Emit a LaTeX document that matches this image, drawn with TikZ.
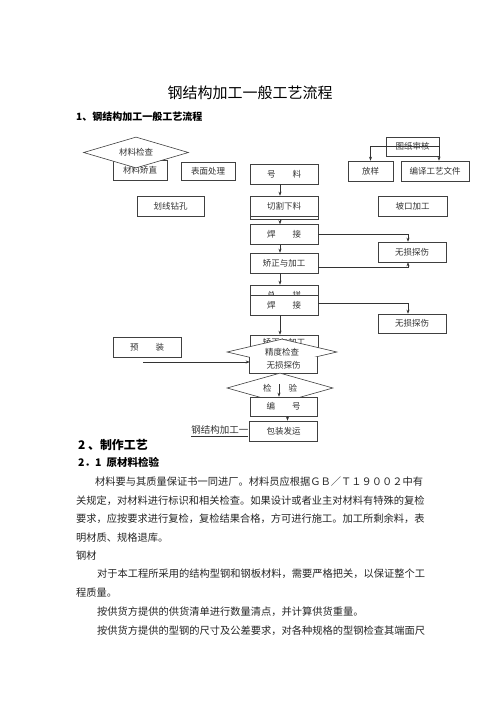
\documentclass[tikz,border=0pt]{standalone}
\usepackage{fontspec}
\setmainfont{Noto Sans CJK SC}
\usetikzlibrary{shapes.geometric,arrows.meta}

\begin{document}
\begin{tikzpicture}[
			x=1pt, y=-1pt,
			box/.style = {draw=black!75, fill=white, line width=.6pt, inner sep=0pt,
				minimum width=68pt, minimum height=20pt,
				font=\fontsize{8.5}{10}\selectfont, text=black!80},
			check/.style = {diamond, aspect=3.5, draw=black!75, fill=white, line width=.6pt,
				inner sep=0pt, font=\fontsize{8.5}{10}\selectfont, text=black!80},
			flow/.style = {draw=black!80, line width=.5pt, -{Stealth[length=4pt,width=3pt]}},
			head/.style = {anchor=west, inner sep=0pt, font=\bfseries\fontsize{10}{12}\selectfont},
			body/.style = {anchor=west, inner sep=0pt, font=\fontsize{10.25}{12}\selectfont, text=black!85}
		]
		\useasboundingbox[fill=white] (0,0) rectangle (500,707);
		\node[font=\fontsize{15}{18}\selectfont] (title) at (250,93) {钢结构加工一般工艺流程};
		\node[head] (head1) at (76,117) {1、钢结构加工一般工艺流程};
		% Left group.
		\node[box, minimum width=54pt] (straighten) at (140,170) {材料矫直};
		\node[check, minimum width=105pt, minimum height=31pt] (matcheck) at (136,152.5) {材料检查};
		\node[box, minimum width=54pt, minimum height=18pt] (surface) at (208,171) {表面处理};
		\node[box, minimum width=67pt] (scribe) at (170.5,206) {划线钻孔};
		\node[box] (preassembly) at (147,347) {预\quad\quad 装};
		% Right group.
		\node[box, minimum width=53pt, minimum height=19pt] (review) at (412.5,146.5) {图纸审核};
		\node[box, minimum width=45pt] (lofting) at (370.5,171) {放样};
		\node[box] (compile) at (435,171) {编译工艺文件};
		\node[box, minimum width=69pt] (bevel) at (412.5,206) {坡口加工};
		\node[box] (ndt1) at (412,252) {无损探伤};
		\node[box, minimum height=19pt] (ndt2) at (412,323.5) {无损探伤};
		% Main column.
		\node[box] (mark) at (284,174) {号\quad\quad 料};
		\node[box] (cutback) at (284,209) {};
		\node[box] (cut) at (284,206) {切割下料};
		\node[box] (weld1) at (284,234.5) {焊\quad\quad 接};
		\node[box] (fix1) at (284,263) {矫正与加工};
		\node[box] (assemble) at (284,295) {总\quad\quad 拼};
		\node[box] (weld2) at (284,305) {焊\quad\quad 接};
		\node[box, minimum height=14pt] (fix2) at (284,342) {矫正与加工};
		\node[check, minimum width=110pt, minimum height=26pt] (precise) at (282,352) {精度检查};
		\node[box, draw=none, minimum width=67pt, minimum height=16pt] (ndt3) at (283.5,365) {无损探伤};
		\draw[draw=black!75, line width=.6pt] (ndt3.north west) |- (ndt3.south east) -- (ndt3.north east);
		\node[check, minimum width=106pt, minimum height=30pt] (inspect) at (280,388) {检\quad\quad 验};
		\node[box, minimum width=67pt, minimum height=19pt] (number) at (283.5,406.5) {编\quad\quad 号};
		\node[box] (ship) at (283.5,431) {包装发运};
		\node[anchor=east, inner sep=0pt, font=\fontsize{9.5}{12}\selectfont, text=black!80] (caption) at (248.5,431) {\underline{钢结构加工一}};
		\coordinate (feed) at (143,362);
		\coordinate (inspectmid) at (279,384);

		\draw[flow] (review.center) -| (lofting.north);
		\draw[flow] (review.center) -| ([xshift=4pt]compile.north);
		\draw[flow] ([xshift=-4pt]mark.south) -- ([xshift=-4pt]cut.north);
		\draw[flow] ([xshift=-4pt]cutback.south) -- ([xshift=-4pt]weld1.north);
		\draw[flow] ([xshift=-4pt]weld1.south) -- ([xshift=-4pt]fix1.north);
		\draw[flow] ([xshift=-4pt]fix1.south) -- ([xshift=-4pt]assemble.north);
		\draw[flow] ([xshift=-4pt]weld2.south) -- ([xshift=-4pt]fix2.north);
		\draw[flow] (weld1.east) -| ([xshift=-4pt]ndt1.north);
		\draw[flow] ([yshift=-4pt]fix1.east) -| ([xshift=-4pt]ndt1.south);
		\draw[flow] ([yshift=2pt]weld2.east) -| ([xshift=-4pt]ndt2.north);
		\draw[flow] (feed) -- (feed -| ndt3.west);
		\draw[flow] (inspectmid) -- (inspectmid |- number.north);
		\draw[flow] ([xshift=4pt]number.south) -- ([xshift=4pt]ship.north);

		% Text below.
		\node[head, font=\bfseries\fontsize{11.9}{14}\selectfont] (head2) at (78,445) {2 、制作工艺};
		\node[head, font=\bfseries\fontsize{10.5}{12}\selectfont] (head21) at (78,462) {2．1\enspace 原材料检验};
		\node[body] (p1) at (95,482) {材料要与其质量保证书一同进厂。材料员应根据ＧＢ／Ｔ１９００２中有};
		\node[body] (p2) at (76,501) {关规定，对材料进行标识和相关检查。如果设计或者业主对材料有特殊的复检};
		\node[body] (p3) at (76,519) {要求，应按要求进行复检，复检结果合格，方可进行施工。加工所剩余料，表};
		\node[body] (p4) at (76,538) {明材质、规格退库。};
		\node[body] (p5) at (76,556) {钢材};
		\node[body] (p6) at (97,574) {对于本工程所采用的结构型钢和钢板材料，需要严格把关，以保证整个工};
		\node[body] (p7) at (76,593) {程质量。};
		\node[body] (p8) at (97,612) {按供货方提供的供货清单进行数量清点，并计算供货重量。};
		\node[body] (p9) at (97,631) {按供货方提供的型钢的尺寸及公差要求，对各种规格的型钢检查其端面尺};
	\end{tikzpicture}
\end{document}
